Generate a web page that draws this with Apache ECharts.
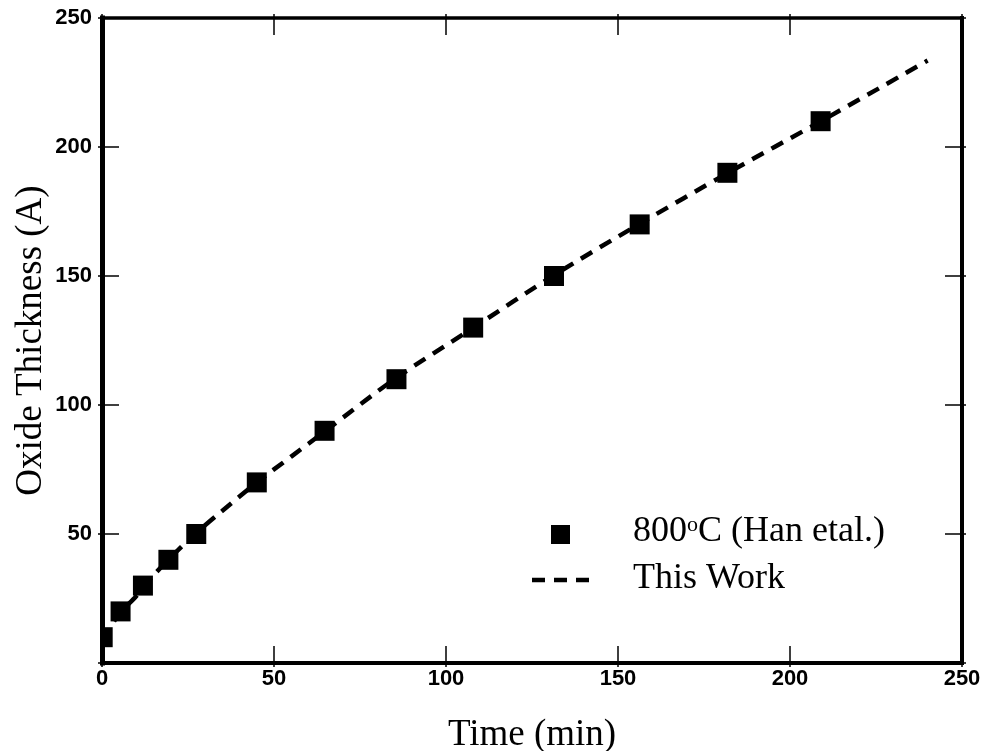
<!DOCTYPE html>
<html>
<head>
<meta charset="utf-8">
<script src="https://cdn.jsdelivr.net/npm/echarts@6/dist/echarts.min.js"></script>
<style>
  html, body { margin: 0; padding: 0; background: #fff; }
  #chart { width: 982px; height: 751px; }
</style>
</head>
<body>
<div id="chart"></div>
<script>
// Measured oxide thickness at 800 °C (Han et al.)
const measuredTime = [0.2, 5.4, 11.9, 19.3, 27.4, 45, 64.7, 85.6, 107.9, 131.4, 156.3, 181.8, 208.9];
const measuredThickness = [10, 20, 30, 40, 50, 70, 90, 110, 130, 150, 170, 190, 210];

// Model curve ("This Work")
const modelTime = [0, 2, 5, 10, 15, 20, 27, 35, 45, 55, 65, 85, 108, 131, 156, 182, 209, 240];
const modelThickness = [9, 13, 19, 26, 34, 41, 50, 59, 70, 80, 90, 110, 130, 150, 170, 190, 210, 233.5];

// Axis ranges
const xRange = [0, 250];
const yRange = [0, 250];
const tickStep = 50;

const seriesNames = ['800oC (Han etal.)', 'This Work'];

const chart = echarts.init(document.getElementById('chart'), null, { renderer: 'canvas' });

const serif = '"Liberation Serif", "Times New Roman", serif';
const tickFont = { fontFamily: 'Liberation Sans, Arial, sans-serif', fontWeight: 'bold', fontSize: 22, color: '#000' };
const titleFont = { fontFamily: serif, fontSize: 37, color: '#000' };

function frameAxis(pos, extra) {
  const vertical = pos === 'left' || pos === 'right';
  return Object.assign({
    type: 'value',
    position: pos,
    min: vertical ? yRange[0] : xRange[0],
    max: vertical ? yRange[1] : xRange[1],
    interval: tickStep,
    z: 5,
    splitLine: { show: false },
    axisLabel: { show: false },
    axisLine: { show: true, onZero: false, lineStyle: { color: '#000', width: 4, cap: 'square' } },
    axisTick: { show: true, inside: true, length: 17, lineStyle: { color: '#000', width: 1.5 } }
  }, extra);
}

// Short outward stubs at every tick
function stubAxis(pos) {
  return frameAxis(pos, {
    axisLine: { show: false, onZero: false },
    axisTick: { show: true, inside: false, length: 4, lineStyle: { color: '#000', width: 1.5 } }
  });
}

const option = {
  backgroundColor: '#fff',
  animation: false,
  grid: { left: 102, right: 20, top: 18, bottom: 88, containLabel: false, outerBoundsMode: 'none' },
  xAxis: [
    frameAxis('bottom', {
      axisLabel: Object.assign({ show: true, margin: 5 }, tickFont),
      name: 'Time (min)',
      nameLocation: 'middle',
      nameGap: 54,
      nameMoveOverlap: false,
      nameTextStyle: titleFont
    }),
    frameAxis('top', { axisLine: { show: true, onZero: false, lineStyle: { color: '#000', width: 3.5, cap: 'square' } } }),
    stubAxis('bottom'),
    stubAxis('top')
  ],
  yAxis: [
    frameAxis('left', {
      axisLine: { show: true, onZero: false, lineStyle: { color: '#000', width: 5, cap: 'square' } },
      axisLabel: Object.assign({
        show: true, margin: 10,
        formatter: v => (v === 0 ? '' : String(v))
      }, tickFont),
      name: 'Oxide Thickness (A)',
      nameLocation: 'middle',
      nameGap: 52,
      nameMoveOverlap: false,
      nameTextStyle: titleFont
    }),
    frameAxis('right'),
    stubAxis('left'),
    stubAxis('right')
  ],
  series: [
    {
      name: seriesNames[1],
      type: 'line',
      xAxisIndex: 0,
      yAxisIndex: 0,
      data: modelTime.map((t, i) => [t, modelThickness[i]]),
      showSymbol: false,
      smooth: 0.3,
      clip: true,
      lineStyle: { color: '#000', width: 4.5, type: [13, 9] },
      z: 2
    },
    {
      name: seriesNames[0],
      type: 'custom',
      xAxisIndex: 0,
      yAxisIndex: 0,
      data: measuredTime.map((t, i) => [t, measuredThickness[i]]),
      encode: { x: 0, y: 1 },
      clip: true,
      renderItem: function (params, api) {
        const p = api.coord([api.value(0), api.value(1)]);
        return {
          type: 'rect',
          shape: { x: p[0] - 10, y: p[1] - 10, width: 20, height: 20 },
          style: { fill: '#000' }
        };
      },
      z: 3
    }
  ],
  graphic: [
    { type: 'rect', left: 551, top: 525, shape: { width: 19, height: 19 }, style: { fill: '#000' } },
    { type: 'line', shape: { x1: 532, y1: 580, x2: 591, y2: 580 }, style: { stroke: '#000', lineWidth: 4.5, lineDash: [13, 9] } },
    {
      type: 'text', left: 633, top: 514,
      style: {
        text: '{n|800}{s|o}{n|C (Han etal.)}',
        rich: {
          n: { fontFamily: serif, fontSize: 36, fill: '#000', lineHeight: 40 },
          s: { fontFamily: serif, fontSize: 22, fill: '#000', padding: [0, 0, 14, 0], lineHeight: 40 }
        }
      }
    },
    {
      type: 'text', left: 633, top: 561,
      style: { text: seriesNames[1], font: '36px "Liberation Serif", "Times New Roman", serif', fill: '#000' }
    }
  ]
};

chart.setOption(option);
</script>
</body>
</html>
